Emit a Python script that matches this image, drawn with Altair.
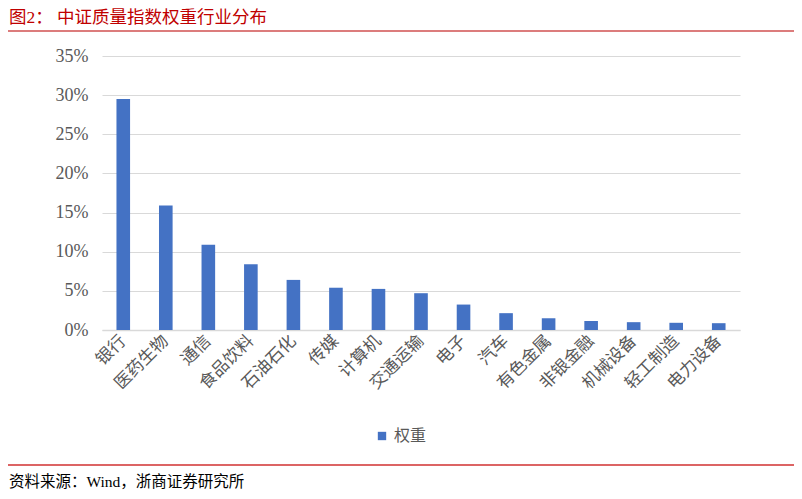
import altair as alt
import pandas as pd

categories = ["银行", "医药生物", "通信", "食品饮料", "石油石化", "传媒", "计算机", "交通运输",
              "电子", "汽车", "有色金属", "非银金融", "机械设备", "轻工制造", "电力设备"]
weights = [29.5, 15.9, 10.9, 8.4, 6.4, 5.4, 5.25, 4.7, 3.25, 2.15, 1.5, 1.15, 1.0, 0.92, 0.87]
series_name = "权重"
y_ticks = [0, 5, 10, 15, 20, 25, 30, 35]

df = pd.DataFrame({"行业": categories, "值": [w / 100 for w in weights], "系列": series_name})

serif = "Liberation Serif, Noto Sans CJK SC"

W, H = 638, 274

bars = alt.Chart(df).mark_bar(color="#4472C4").encode(
    x=alt.X("行业:N", sort=categories,
            scale=alt.Scale(paddingInner=0.68, paddingOuter=0.34),
            axis=alt.Axis(title=None, labelAngle=-45, labelAlign="right", labelBaseline="middle",
                          labelFontSize=17, labelFont=serif, labelColor="#595959", grid=False,
                          labelPadding=8, ticks=False, domainColor="#d9d9d9", domainWidth=1.5)),
    y=alt.Y("值:Q", scale=alt.Scale(domain=[0, 0.35], nice=False),
            axis=alt.Axis(title=None, values=[t / 100 for t in y_ticks], format=".0%",
                          labelFontSize=18, labelFont=serif, labelColor="#595959",
                          labelPadding=14, ticks=False, domain=False,
                          gridColor="#d9d9d9", gridWidth=1.2)),
    color=alt.Color("系列:N", scale=alt.Scale(range=["#4472C4"]),
                    legend=alt.Legend(title=None, orient="none", legendX=272, legendY=372,
                                      symbolType="square", symbolSize=70,
                                      labelFontSize=16, labelFont=serif, labelColor="#595959")),
)

title = alt.Chart(pd.DataFrame({"t": ["图2：   中证质量指数权重行业分布"]})).mark_text(
    align="left", baseline="middle", fontSize=17.5, font=serif, color="#C00000"
).encode(text="t:N", x=alt.value(-93), y=alt.value(-38))

footer = alt.Chart(pd.DataFrame({"t": ["资料来源：Wind，浙商证券研究所"]})).mark_text(
    align="left", baseline="middle", fontSize=15.5, font=serif, color="#000000"
).encode(text="t:N", x=alt.value(-93), y=alt.value(426))

line_top = alt.Chart(pd.DataFrame({"a": [0]})).mark_rule(color="#D05050", strokeWidth=1.5).encode(
    x=alt.value(-97), x2=alt.value(696), y=alt.value(-25), y2=alt.value(-25))
line_bot = alt.Chart(pd.DataFrame({"a": [0]})).mark_rule(color="#D03030", strokeWidth=1.5).encode(
    x=alt.value(-97), x2=alt.value(696), y=alt.value(409), y2=alt.value(409))

chart = alt.layer(bars, title, footer, line_top, line_bot).properties(
    width=W, height=H,
    background="white",
    autosize=alt.AutoSizeParams(type="none"),
    padding={"left": 94, "top": 48, "right": 54, "bottom": 161},
).configure(
    view=alt.ViewConfig(stroke="transparent", strokeWidth=0),
    style={"cell": {"stroke": "transparent", "strokeWidth": 0}},
    axisRight=alt.AxisConfig(domain=False, grid=False),
)

chart.save("out.html", embed_options={"renderer": "svg", "actions": False})
